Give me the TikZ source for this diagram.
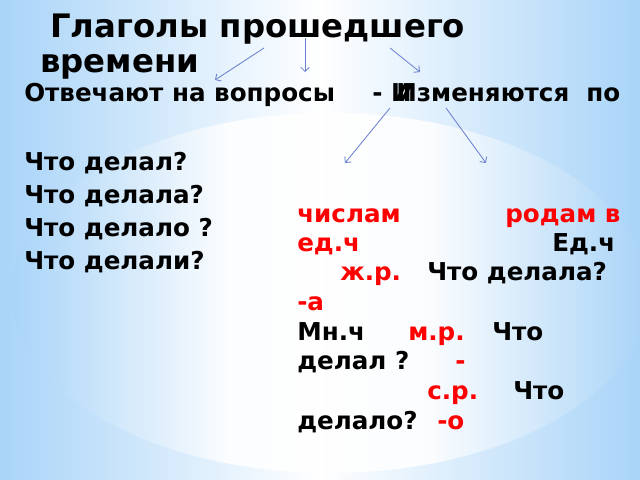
\documentclass[tikz,border=0pt]{standalone}
\usepackage{fontspec}
\setmainfont{DejaVu Sans}
\usepackage{xcolor}
\usetikzlibrary{arrows.meta}
\definecolor{custom_blue}{HTML}{a9d4f8}
\definecolor{custom_red}{HTML}{ff0000}
\definecolor{arrow_blue}{HTML}{6c80d0}
\pgfdeclarehorizontalshading{glow}{100bp}{color(0bp)=(custom_blue); color(25bp)=(custom_blue); color(42bp)=(white); color(58bp)=(white); color(75bp)=(custom_blue); color(100bp)=(custom_blue)}

\begin{document}
\begin{tikzpicture}[x=0.025cm, y=-0.025cm,
    every node/.style={font=\bfseries\fontsize{17.5}{21}\selectfont, inner sep=0pt, anchor=base west},
    redword/.style={text=custom_red},
    arrowline/.style={-{Straight Barb[length=3pt, width=6pt]}, arrow_blue, line width=0.6pt}]

    % Background with the light glow
    \useasboundingbox (0,0) rectangle (640,480);
    \shade[left color=custom_blue, right color=custom_blue, middle color=white] (0,0) rectangle (640,480);
    \shade[shading=glow, opacity=0.85] (330,293) ellipse (318 and 180);

    % Title
    \node (title) at (50,37) {\fontsize{23}{30}\selectfont Глаголы прошедшего};
    \node (titletwo) at (40,72) {\fontsize{23}{30}\selectfont времени};

    % Second line
    \node (answers) at (24,101) {Отвечают на вопросы};
    \node (dash) at (372,101) {- И};
    \node (changes) at (396,101) {Изменяются\ \ по};

    % Questions on the left
    \foreach \q [count=\i] in {Что делал?, Что делала?, Что делало ?, Что делали?}
        \node (q\i) at (24,137+33*\i) {\q};

    % Block on the right
    \node[redword] (number) at (297,222) {числам};
    \node[redword] (gender) at (505,222) {родам в};
    \node[redword] (sing) at (297,251) {ед.ч};
    \node (singtwo) at (552,251) {Ед.ч};
    \node[redword] (fem) at (340,280) {ж.р.};
    \node (femq) at (427,280) {Что делала?};
    \node[redword] (femend) at (297,310) {-а};
    \node (plur) at (297,340) {Мн.ч};
    \node[redword] (masc) at (408,340) {м.р.};
    \node (mascq) at (492,340) {Что};
    \node (mascqtwo) at (297,369) {делал ?};
    \node[redword] (mascend) at (455,369) {-};
    \node[redword] (neut) at (427,399) {с.р.};
    \node (neutq) at (513,399) {Что};
    \node (neutqtwo) at (297,429) {делало?};
    \node[redword] (neutend) at (437,429) {-о};

    % Arrows
    \coordinate (lefttop) at (264,48);
    \coordinate (lefttip) at (215,80);
    \coordinate (midtop) at (305,38);
    \coordinate (midtip) at (305,72);
    \coordinate (righttop) at (390,48);
    \coordinate (righttip) at (420,72);
    \coordinate (numtop) at (390,108);
    \coordinate (numtip) at (345,163);
    \coordinate (gentop) at (446,108);
    \coordinate (gentip) at (486,163);
    \draw[arrowline] (lefttop) -- (lefttip);
    \draw[arrowline] (midtop) -- (midtip);
    \draw[arrowline] (righttop) -- (righttip);
    \draw[arrowline] (numtop) -- (numtip);
    \draw[arrowline] (gentop) -- (gentip);

\end{tikzpicture}
\end{document}
